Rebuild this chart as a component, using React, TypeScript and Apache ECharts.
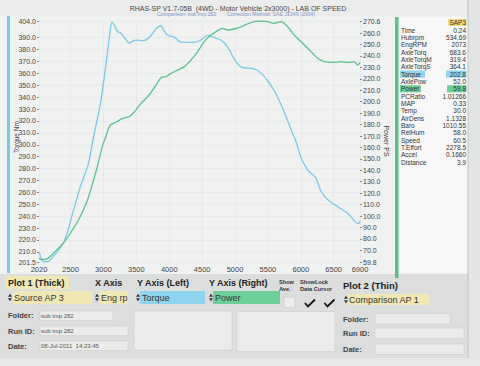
import React, { useEffect, useRef } from "react";
import * as echarts from "echarts";

const FONT = "Liberation Sans, Arial, sans-serif";

const xTicks = [2020, 2500, 3000, 3500, 4000, 4500, 5000, 5500, 6000, 6500, 6900];
const torqueTicks = [201.5, 210, 220, 230, 240, 250, 260, 270, 280, 290, 300, 310, 320, 330, 340, 350, 360, 370, 380, 390, 404];
const powerTicks = [59.8, 70, 80, 90, 100, 110, 120, 130, 140, 150, 160, 170, 180, 190, 200, 210, 220, 230, 240, 250, 260, 270.6];

const torqueRpm = [2020, 2060, 2090, 2150, 2250, 2400, 2540, 2650, 2770, 2836, 2900, 2962, 3064, 3100, 3130, 3170, 3216, 3260, 3320, 3393, 3469, 3520, 3600, 3672, 3740, 3800, 3874, 3930, 3976, 4077, 4178, 4280, 4381, 4482, 4584, 4685, 4787, 4888, 4989, 5090, 5293, 5400, 5496, 5600, 5698, 5780, 5850, 5926, 6003, 6104, 6180, 6231, 6307, 6408, 6560, 6712, 6800, 6860, 6889, 6900];
const torqueNm = [210, 204, 201.7, 201.8, 207, 218.5, 244, 265, 284, 303, 320, 337, 379, 395, 403, 400, 395, 394, 390, 385.5, 387.7, 388, 387.5, 389, 393, 397.5, 400, 395, 392, 390.5, 386.2, 386, 386, 388, 392, 390, 388, 382, 372, 365.5, 363.7, 360, 353.8, 345, 334, 323, 313, 303, 289, 279, 275, 272, 261, 254, 248, 242.4, 237, 234, 234, 236];

const powerRpm = [2020, 2050, 2150, 2250, 2405, 2530, 2633, 2760, 2886, 2988, 3040, 3080, 3114, 3190, 3292, 3393, 3469, 3570, 3672, 3798, 3874, 3950, 4026, 4128, 4229, 4330, 4431, 4533, 4634, 4736, 4812, 4888, 4989, 5090, 5190, 5293, 5395, 5496, 5597, 5698, 5799, 5901, 6003, 6104, 6180, 6256, 6357, 6509, 6611, 6712, 6813, 6864, 6900];
const powerPs = [63, 62, 62.8, 68, 77.4, 88, 97.8, 114.4, 138.7, 162, 170, 177, 180, 182, 185.4, 187, 191, 198.5, 204.4, 214.5, 221, 222, 224.8, 227.7, 230.7, 236.4, 243.8, 252.6, 258.3, 262.2, 264.2, 262.7, 263.6, 265.5, 268, 270, 270.6, 270, 268.6, 270, 265.7, 258.3, 252.6, 246.7, 242.3, 238, 235, 234.4, 235, 234.4, 235, 232, 234.4];

const readoutLabels = ["Time", "Hubrpm", "EngRPM", "AxleTorq", "AxleTorqM", "AxleTorqS", "Torque", "AxlePow", "Power", "PCRatio", "MAP", "Temp", "AirDens", "Baro", "RelHum", "Speed", "T.Effort", "Accel", "Distance"];
const readoutValues = ["0.24", "534.69", "2073", "683.6", "319.4", "364.1", "202.8", "52.0", "59.8", "1.01266", "0.33", "30.0", "1.1328", "1010.55", "58.0", "60.5", "2278.5", "0.1660", "3.9"];

const BLUE = "#7ac8e8";
const GREEN = "#5cc08e";
const BLUE_HL = "#8fd4ee";
const GREEN_HL = "#6fcf98";
const YELLOW = "#f1e7b4";

function txt(text: string, x: number, y: number, o: any = {}) {
  const align = o.align || "left";
  const va = o.va || "middle";
  return {
    type: "text",
    x,
    y,
    rotation: o.rotation || 0,
    silent: true,
    z: 20,
    style: {
      text,
      fill: o.fill || "#333",
      fontSize: o.size || 7,
      fontFamily: FONT,
      fontWeight: o.weight || "normal",
      align,
      verticalAlign: va,
      textAlign: align,
      textVerticalAlign: va,
      width: o.width,
      overflow: o.overflow,
      ellipsis: o.ellipsis,
    },
  };
}

function rect(x: number, y: number, w: number, h: number, fill: string, stroke?: string) {
  return {
    type: "rect",
    silent: true,
    z: 5,
    shape: { x, y, width: w, height: h },
    style: { fill, stroke: stroke || null, lineWidth: stroke ? 0.6 : 0 },
  };
}

function arrows(x: number, y: number) {
  return [
    { type: "polygon", silent: true, z: 20, shape: { points: [[x, y - 0.8], [x + 2, y - 3.8], [x + 4, y - 0.8]] }, style: { fill: "#333" } },
    { type: "polygon", silent: true, z: 20, shape: { points: [[x, y + 0.8], [x + 2, y + 3.8], [x + 4, y + 0.8]] }, style: { fill: "#333" } },
  ];
}

function check(x: number, y: number) {
  return {
    type: "polyline",
    silent: true,
    z: 20,
    shape: { points: [[x, y + 3], [x + 3, y + 6.5], [x + 10, y - 0.5]] },
    style: { stroke: "#111", lineWidth: 1.8, fill: null },
  };
}

export default function App() {
  const ref = useRef<HTMLDivElement>(null);

  useEffect(() => {
    if (!ref.current) return;
    const chart = echarts.init(ref.current, undefined, { renderer: "svg" });

    const graphic: any[] = [];
    // background regions
    graphic.push(rect(0, 0, 480, 16, "#ebecec"));
    graphic.push(rect(468, 0, 12, 274, "#e3e4e4"));
    graphic.push({ type: "line", silent: true, z: 6, shape: { x1: 468, y1: 0, x2: 468, y2: 358 }, style: { stroke: "#b8b8b8", lineWidth: 0.8 } });
    graphic.push(rect(398, 17, 70, 256, "#f7f7f7"));
    graphic.push(rect(0, 274, 468, 84, "#dcdddd"));
    graphic.push(rect(0, 358, 480, 8, "#e6e7e7"));
    graphic.push(rect(468, 274, 12, 84, "#e4e5e5"));

    // side bars
    graphic.push(rect(7, 16, 3, 257, BLUE));
    graphic.push(rect(395, 17, 3.5, 261, GREEN));

    // title
    graphic.push(txt("RHAS-SP V1.7-05B  (4WD - Motor Vehicle 2x3000) - LAB OF SPEED", 238, 8, { align: "center", size: 7, fill: "#444" }));
    graphic.push(txt("Comparison: sub imp 282", 157, 14, { size: 5.2, fill: "#8295c4" }));
    graphic.push(txt("Correction Method: SAE J1349 (2004)", 227, 14, { size: 5.2, fill: "#8295c4" }));

    // axis names
    graphic.push(txt("Torque Nm", 16, 137, { align: "center", size: 6.5, fill: "#444", rotation: Math.PI / 2 }));
    graphic.push(txt("Power PS", 386, 141, { align: "center", size: 7, fill: "#444", rotation: -Math.PI / 2 }));

    // readout panel
    graphic.push(rect(448, 19, 18.5, 7, "#f0d97a"));
    graphic.push(txt("SAP3", 466, 22.5, { align: "right", size: 6.5, fill: "#333" }));
    readoutLabels.forEach((lab, i) => {
      const y = 30 + i * 7.35;
      if (lab === "Torque") {
        graphic.push(rect(400, y - 3.6, 25, 7.2, BLUE_HL));
        graphic.push(rect(446, y - 3.6, 20.5, 7.2, BLUE_HL));
      }
      if (lab === "Power") {
        graphic.push(rect(400, y - 3.6, 21, 7.2, GREEN_HL));
        graphic.push(rect(447, y - 3.6, 19.5, 7.2, GREEN_HL));
      }
      graphic.push(txt(lab, 401, y, { size: 6.5, fill: "#333" }));
      graphic.push(txt(readoutValues[i], 466, y, { align: "right", size: 6.5, fill: "#333" }));
    });

    // bottom panel headers
    graphic.push(rect(5, 276, 64, 13, YELLOW));
    graphic.push(txt("Plot 1 (Thick)", 8, 282.5, { size: 9, weight: "bold", fill: "#222" }));
    graphic.push(txt("X Axis", 95, 282.5, { size: 9, weight: "bold", fill: "#222" }));
    graphic.push(txt("Y Axis (Left)", 137, 282.5, { size: 9, weight: "bold", fill: "#222" }));
    graphic.push(txt("Y Axis (Right)", 209, 282.5, { size: 9, weight: "bold", fill: "#222" }));
    graphic.push(txt("Show", 279, 282, { size: 5.6, weight: "bold", fill: "#333" }));
    graphic.push(txt("Ave.", 279, 288.5, { size: 5.6, weight: "bold", fill: "#333" }));
    graphic.push(txt("ShowLock", 300, 282, { size: 5.6, weight: "bold", fill: "#333" }));
    graphic.push(txt("Data Cursor", 300, 288.5, { size: 5.6, weight: "bold", fill: "#333" }));
    graphic.push(txt("Plot 2 (Thin)", 343, 285, { size: 9.5, weight: "bold", fill: "#222" }));

    // dropdowns
    graphic.push(rect(13, 291, 79, 13, YELLOW));
    graphic.push(...arrows(8, 297.5));
    graphic.push(txt("Source AP 3", 14, 297.5, { size: 9, fill: "#333" }));
    graphic.push(rect(100, 291, 28, 13, YELLOW));
    graphic.push(...arrows(95, 297.5));
    graphic.push(txt("Eng rpm", 101, 297.5, { size: 9, fill: "#333", width: 31, overflow: "truncate", ellipsis: "" }));
    graphic.push(rect(140, 291, 65, 13, BLUE_HL));
    graphic.push(...arrows(136, 297.5));
    graphic.push(txt("Torque", 142, 297.5, { size: 9, fill: "#333" }));
    graphic.push(rect(213, 291, 67, 13, GREEN_HL));
    graphic.push(...arrows(209, 297.5));
    graphic.push(txt("Power", 215, 297.5, { size: 9, fill: "#333" }));
    graphic.push(rect(284, 297, 11, 10.5, "#ededed", "#c8c8c8"));
    graphic.push(check(305, 300));
    graphic.push(check(324.5, 300));
    graphic.push(rect(348, 294, 81, 11, YELLOW));
    graphic.push(...arrows(344, 299.5));
    graphic.push(txt("Comparison AP 1", 349, 299.5, { size: 9, fill: "#333" }));

    // left info fields
    const fieldFill = "#ebebe9";
    graphic.push(txt("Folder:", 8, 315.5, { size: 7.5, weight: "bold", fill: "#444" }));
    graphic.push(rect(40, 311, 73, 9.5, fieldFill, "#cfcfcf"));
    graphic.push(txt("sub imp 282", 41, 315.5, { size: 6, fill: "#555" }));
    graphic.push(txt("Run ID:", 8, 331, { size: 7.5, weight: "bold", fill: "#444" }));
    graphic.push(rect(40, 326, 88, 9.5, fieldFill, "#cfcfcf"));
    graphic.push(txt("sub imp 282", 41, 330.5, { size: 6, fill: "#555" }));
    graphic.push(txt("Date:", 8, 346.5, { size: 7.5, weight: "bold", fill: "#444" }));
    graphic.push(rect(40, 341, 88, 9.5, fieldFill, "#cfcfcf"));
    graphic.push(txt("08-Jul-2011  14:23:45", 41, 345.8, { size: 6, fill: "#555" }));

    // empty boxes
    graphic.push(rect(134, 311, 98, 39, fieldFill, "#cfcfcf"));
    graphic.push(rect(237, 311.5, 98, 40, fieldFill, "#cfcfcf"));

    // right info fields
    graphic.push(txt("Folder:", 343, 319.5, { size: 7.5, weight: "bold", fill: "#444" }));
    graphic.push(rect(375, 313.5, 75, 10.5, fieldFill, "#cfcfcf"));
    graphic.push(txt("Run ID:", 343, 333.5, { size: 7.5, weight: "bold", fill: "#444" }));
    graphic.push(rect(375, 328, 89, 10.5, fieldFill, "#cfcfcf"));
    graphic.push(txt("Date:", 343, 349.5, { size: 7.5, weight: "bold", fill: "#444" }));
    graphic.push(rect(375, 344, 89, 10.5, fieldFill, "#cfcfcf"));

    const labelStyle = { fontSize: 7, color: "#444", fontFamily: FONT };

    chart.setOption({
      animation: false,
      backgroundColor: "#f0f1f1",
      grid: { left: 39, right: 120, top: 21, bottom: 104, show: false },
      xAxis: {
        type: "value",
        min: 2020,
        max: 6900,
        axisLine: { show: false },
        axisTick: { show: false, customValues: xTicks },
        axisLabel: { ...labelStyle, fontSize: 7.5, margin: 3, customValues: xTicks, formatter: (v: number) => String(v) },
        splitLine: { show: true, lineStyle: { color: "#e1e4e6", width: 0.6 } },
      },
      yAxis: [
        {
          type: "value",
          position: "left",
          min: 201.5,
          max: 404,
          axisLine: { show: false },
          axisTick: { show: true, length: 2, customValues: torqueTicks, lineStyle: { color: "#888" } },
          axisLabel: { ...labelStyle, margin: 3, customValues: torqueTicks, formatter: (v: number) => v.toFixed(1) },
          splitLine: { show: true, lineStyle: { color: "#e1e4e6", width: 0.6 } },
        },
        {
          type: "value",
          position: "right",
          min: 59.8,
          max: 270.6,
          axisLine: { show: false },
          axisTick: { show: true, length: 2, customValues: powerTicks, lineStyle: { color: "#888" } },
          axisLabel: { ...labelStyle, margin: 3, customValues: powerTicks, formatter: (v: number) => v.toFixed(1) },
          splitLine: { show: false },
        },
      ],
      series: [
        {
          type: "line",
          name: "Torque",
          yAxisIndex: 0,
          data: torqueRpm.map((r, i) => [r, torqueNm[i]]),
          showSymbol: false,
          smooth: 0.3,
          lineStyle: { color: BLUE, width: 1.3 },
          itemStyle: { color: BLUE },
        },
        {
          type: "line",
          name: "Power",
          yAxisIndex: 1,
          data: powerRpm.map((r, i) => [r, powerPs[i]]),
          showSymbol: false,
          smooth: 0.3,
          lineStyle: { color: GREEN, width: 1.3 },
          itemStyle: { color: GREEN },
        },
      ],
      graphic: { elements: graphic },
    });

    return () => chart.dispose();
  }, []);

  return (
    <div
      ref={ref}
      style={{ position: "fixed", left: 0, top: 0, width: 480, height: 366 }}
    />
  );
}
